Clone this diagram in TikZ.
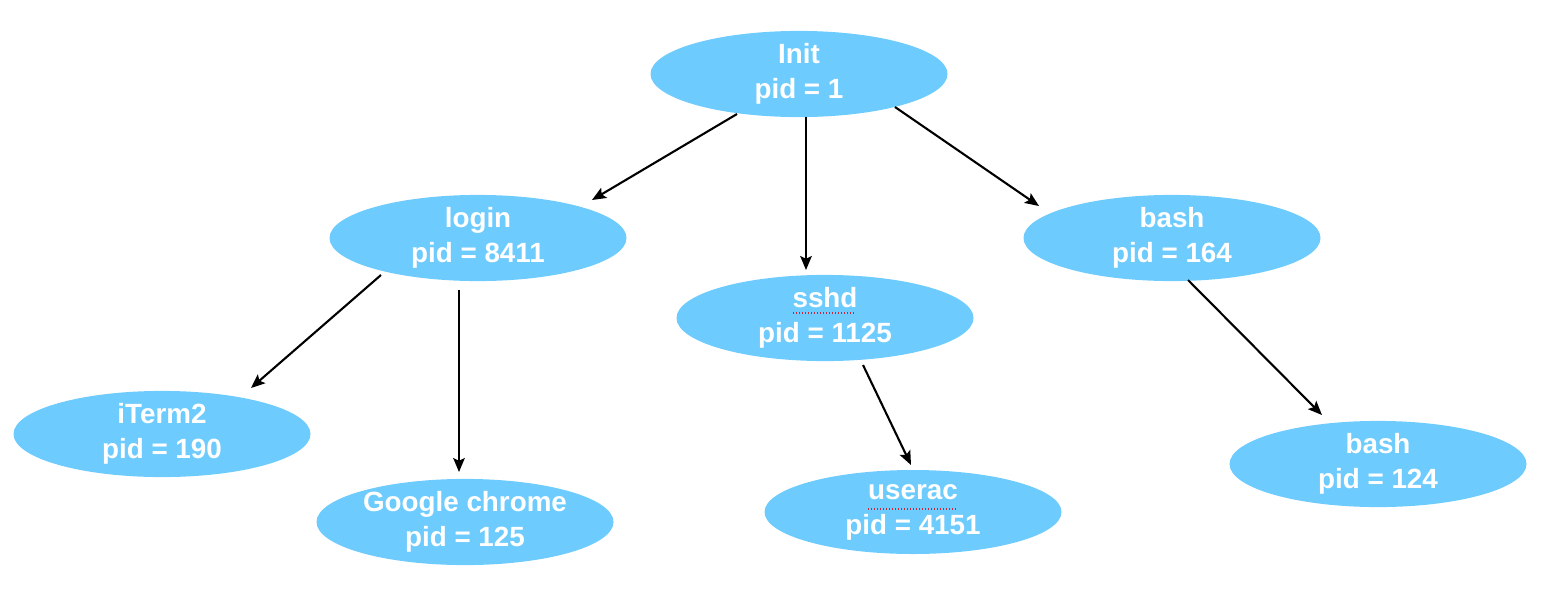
\documentclass[tikz,border=0pt]{standalone}
\usepackage{fontspec}
\setmainfont{Liberation Sans}
\usetikzlibrary{shapes.geometric,arrows.meta,calc}
\definecolor{procblue}{RGB}{110,203,253}
\definecolor{spellred}{RGB}{200,40,60}
\tikzset{
  proc/.style={ellipse, fill=procblue, draw=none, inner sep=0pt,
    minimum width=148.5pt, minimum height=42pt, align=center,
    text=white, font=\bfseries\fontsize{13.9pt}{17.5pt}\selectfont},
  link/.style={line width=1.05pt, -{Stealth[length=7pt,width=5.8pt,inset=1.4pt]}},
  spell/.style={spellred, line width=0.7pt, dash pattern=on 0.7pt off 0.8pt}
}
\begin{document}
\begin{tikzpicture}[x=0.5pt,y=-0.5pt]
\useasboundingbox (0,0) rectangle (1558,600);
\node[proc] (init)   at (799,74)  {Init\\pid = 1};
\node[proc] (login)  at (478,238) {login\\pid = 8411};
\node[proc] (sshd)   at (825,318) {sshd\\pid = 1125};
\node[proc] (bashA)  at (1172,238) {bash\\pid = 164};
\node[proc] (iterm)  at (162,434) {iTerm2\\pid = 190};
\node[proc] (chrome) at (465,522) {Google chrome\\pid = 125};
\node[proc] (userac) at (913,512) {userac\\pid = 4151};
\node[proc] (bashB)  at (1378,464) {bash\\pid = 124};

\draw[link] ($(init.center)+(-62,40)$) -- ($(login.center)+(114,-38)$);
\draw[link] ($(init.center)+(7,43)$) -- ($(sshd.center)+(-19,-48)$);
\draw[link] ($(init.center)+(96,33)$) -- ($(bashA.center)+(-133,-32)$);
\draw[link] ($(login.center)+(-97,37)$) -- ($(iterm.center)+(89,-46)$);
\draw[link] ($(login.center)+(-19,52)$) -- ($(chrome.center)+(-6,-50)$);
\draw[link] ($(sshd.center)+(38,47)$) -- ($(userac.center)+(-2,-47)$);
\draw[link] ($(bashA.center)+(16,42)$) -- ($(bashB.center)+(-56,-49)$);

\draw[spell] ($(sshd.center)+(-32,-5)$) -- ($(sshd.center)+(29,-5)$);
\draw[spell] ($(userac.center)+(-45,-3)$) -- ($(userac.center)+(44,-3)$);
\end{tikzpicture}
\end{document}
